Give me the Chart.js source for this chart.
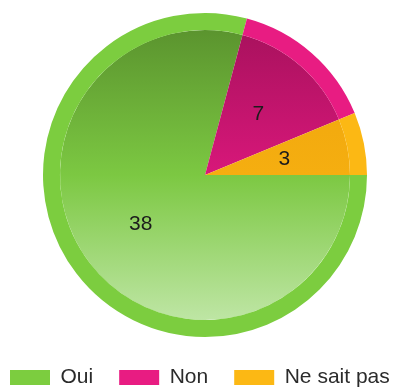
<!DOCTYPE html>
<html lang="fr">
<head>
<meta charset="utf-8">
<title>Répartition des réponses</title>
<script src="https://cdn.jsdelivr.net/npm/chart.js@4.4.1/dist/chart.umd.min.js"></script>
<style>
  html, body { margin: 0; padding: 0; background: #ffffff; }
  #wrap { width: 393px; height: 389px; }
</style>
</head>
<body>
<div id="wrap"><canvas id="pie" width="393" height="389"></canvas></div>
<script>
// Answers and counts
const categories = ['Oui', 'Non', 'Ne sait pas'];
const counts = [38, 7, 3];

// Outer rim colours (also used by the legend)
const rimColors = ['#7ccd3f', '#e81c82', '#fcb814'];
// Inner disc shading, top -> middle -> bottom
const shadeTop = ['#578e2c', '#a3115a', '#eea30c'];
const shadeMid = ['#7cc842', '#d8177a', '#f5ae10'];
const shadeBottom = ['#c6e9b0', '#ee4a9c', '#fcc43a'];

const FONT = '"Liberation Sans", Arial, sans-serif';
const OUTER_RADIUS = 162;

function innerShade(ctx) {
  const chart = ctx.chart;
  const area = chart.chartArea;
  const i = ctx.dataIndex;
  if (!area) return shadeMid[i];
  const cy = (area.top + area.bottom) / 2;
  const r = OUTER_RADIUS;
  const g = chart.ctx.createLinearGradient(0, cy - r, 0, cy + r);
  g.addColorStop(0, shadeTop[i]);
  g.addColorStop(0.5, shadeMid[i]);
  g.addColorStop(1, shadeBottom[i]);
  return g;
}

// Value labels halfway out along each slice
const sliceValues = {
  id: 'sliceValues',
  afterDatasetsDraw(chart) {
    const meta = chart.getDatasetMeta(0);
    const ctx = chart.ctx;
    ctx.save();
    ctx.font = '21px ' + FONT;
    ctx.fillStyle = '#1c1c1c';
    ctx.textAlign = 'center';
    ctx.textBaseline = 'middle';
    meta.data.forEach((arc, i) => {
      const p = arc.getProps(['x', 'y', 'startAngle', 'endAngle', 'outerRadius'], true);
      const mid = (p.startAngle + p.endAngle) / 2;
      const r = p.outerRadius * 0.5;
      ctx.fillText(String(counts[i]), p.x + Math.cos(mid) * r, p.y + Math.sin(mid) * r);
    });
    ctx.restore();
  }
};

new Chart(document.getElementById('pie'), {
  type: 'pie',
  data: {
    labels: categories,
    datasets: [
      {
        data: counts,
        backgroundColor: rimColors,
        borderWidth: 0,
        weight: 17
      },
      {
        data: counts,
        backgroundColor: innerShade,
        borderWidth: 0,
        weight: 145
      }
    ]
  },
  options: {
    responsive: false,
    animation: false,
    devicePixelRatio: 1,
    rotation: 90,
    radius: OUTER_RADIUS,
    layout: {
      padding: { top: 9, bottom: -9, left: -16, right: -33 }
    },
    plugins: {
      tooltip: { enabled: false },
      // empty left-hand title: a margin strip that nudges the pie right
      title: {
        display: true,
        position: 'left',
        text: '',
        font: { family: FONT, size: 10, lineHeight: 1 },
        padding: { top: 11.5, bottom: 11.5 }
      },
      legend: {
        position: 'bottom',
        align: 'start',
        labels: {
          boxWidth: 40,
          boxHeight: 15,
          padding: 26,
          color: '#2b2b2b',
          font: { family: FONT, size: 21 }
        }
      }
    }
  },
  plugins: [sliceValues]
});
</script>
</body>
</html>
